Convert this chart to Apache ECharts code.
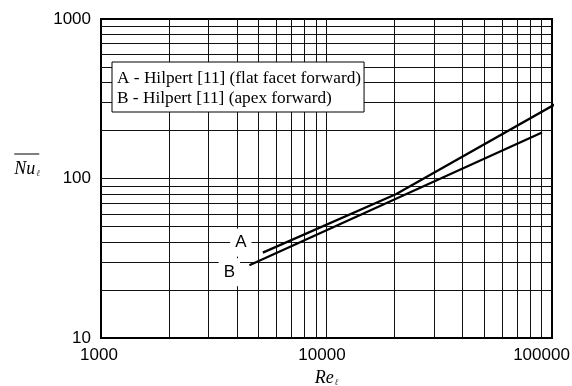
<!DOCTYPE html>
<html>
<head>
    <meta charset="utf-8">
    <title>Nu vs Re</title>
    <script src="https://cdn.jsdelivr.net/npm/echarts@6/dist/echarts.min.js"></script>
    <style>
        html, body { margin: 0; padding: 0; background: #fff; }
        #main { width: 572px; height: 386px; }
    </style>
</head>
<body>
    <div id="main"></div>
    <script>
        // tick labels
        var xTickLabels = [1000, 10000, 100000];
        var yTickLabels = [10, 100, 1000];
        // grid lines (log decades with 2..9 subdivisions)
        var xGrid = [2000, 3000, 4000, 5000, 6000, 7000, 8000, 9000, 10000,
            20000, 30000, 40000, 50000, 60000, 70000, 80000, 90000];
        var yGrid = [20, 30, 40, 50, 60, 70, 80, 90, 100,
            200, 300, 400, 500, 600, 700, 800, 900];

        // series A - flat facet forward
        var nameA = 'A - Hilpert [11] (flat facet forward)';
        var reA = [5220, 20400, 104500];
        var nuA = [34.3, 80, 295];
        // series B - apex forward
        var nameB = 'B - Hilpert [11] (apex forward)';
        var reB = [4550, 90300];
        var nuB = [28.6, 194];

        var tickFont = 'Liberation Sans';
        var serifFont = 'Liberation Serif';

        function pairs(xs, ys, letter, offset) {
            var out = [];
            for (var i = 0; i < xs.length; i++) {
                var item = { value: [xs[i], ys[i]] };
                if (i === 0) {
                    item.label = {
                        show: true,
                        position: 'inside',
                        offset: offset,
                        formatter: letter,
                        fontFamily: tickFont,
                        fontSize: 17,
                        color: '#000',
                        backgroundColor: '#fff',
                        padding: [5, 5, 6, 5]
                    };
                }
                out.push(item);
            }
            return out;
        }

        var gridLines = [];
        xGrid.forEach(function (v) { gridLines.push({ xAxis: v }); });
        yGrid.forEach(function (v) { gridLines.push({ yAxis: v }); });

        var myChart = echarts.init(document.getElementById('main'), null, { renderer: 'canvas' });

        var option = {
            animation: false,
            backgroundColor: '#fff',
            grid: {
                left: 101,
                top: 19,
                right: 20,
                bottom: 48,
                outerBoundsMode: 'none',
                containLabel: false,
                show: true,
                borderColor: '#000',
                borderWidth: 2,
                backgroundColor: 'transparent'
            },
            legend: {
                data: [nameA, nameB],
                orient: 'vertical',
                left: 112,
                top: 62,
                icon: 'none',
                itemWidth: 0,
                itemHeight: 14,
                itemGap: 3,
                padding: [8, 3, 5, 0],
                backgroundColor: '#fff',
                borderColor: '#000',
                borderWidth: 1,
                selectedMode: false,
                textStyle: { fontFamily: serifFont, fontSize: 17.3, color: '#000' }
            },
            xAxis: {
                type: 'log',
                logBase: 10,
                min: 1000,
                max: 100000,
                name: '{re|Re}{sub|ℓ}',
                nameLocation: 'middle',
                nameGap: 30,
                nameTextStyle: {
                    rich: {
                        re: { fontFamily: serifFont, fontStyle: 'italic', fontSize: 18, color: '#000' },
                        sub: { fontFamily: 'DejaVu Serif', fontStyle: 'italic', fontSize: 9, color: '#444', padding: [9, 0, 0, 1] }
                    }
                },
                axisLine: { show: false },
                axisTick: { show: false },
                splitLine: { show: false },
                axisLabel: {
                    margin: 9,
                    formatter: function (v) {
                        var r = Math.round(v);
                        var i = xTickLabels.indexOf(r);
                        return '{t' + i + '|' + r + '}';
                    },
                    rich: {
                        t0: { fontFamily: tickFont, fontSize: 17, color: '#000', padding: [0, 4, 0, 0] },
                        t1: { fontFamily: tickFont, fontSize: 17, color: '#000', padding: [0, 9, 0, 0] },
                        t2: { fontFamily: tickFont, fontSize: 17, color: '#000', padding: [0, 21, 0, 0] }
                    }
                }
            },
            yAxis: {
                type: 'log',
                logBase: 10,
                min: 10,
                max: 1000,
                name: '{ol| }\n{nu|Nu}{sub|ℓ}',
                nameLocation: 'middle',
                nameRotate: 0,
                nameGap: 61,
                nameTextStyle: {
                    padding: [0, 0, 31, 0],
                    rich: {
                        ol: { width: 25, height: 1, lineHeight: 13, backgroundColor: '#000', align: 'left' },
                        nu: { fontFamily: serifFont, fontStyle: 'italic', fontSize: 18, color: '#000' },
                        sub: { fontFamily: 'DejaVu Serif', fontStyle: 'italic', fontSize: 9, color: '#444', padding: [8, 0, 0, 1] }
                    }
                },
                axisLine: { show: false },
                axisTick: { show: false },
                splitLine: { show: false },
                axisLabel: {
                    margin: 10,
                    fontFamily: tickFont,
                    fontSize: 17,
                    color: '#000',
                    formatter: function (v) { return String(Math.round(v)); }
                }
            },
            series: [
                {
                    name: 'grid',
                    type: 'line',
                    data: [],
                    silent: true,
                    markLine: {
                        z: 1,
                        silent: true,
                        symbol: ['none', 'none'],
                        label: { show: false },
                        lineStyle: { color: '#111', width: 1, type: 'solid' },
                        emphasis: { disabled: true },
                        data: gridLines
                    }
                },
                {
                    name: nameA,
                    type: 'line',
                    z: 3,
                    clip: false,
                    showSymbol: true,
                    symbol: 'circle',
                    symbolSize: 0,
                    lineStyle: { color: '#000', width: 2.2 },
                    itemStyle: { color: '#000' },
                    data: pairs(reA, nuA, 'A', [-22, -10])
                },
                {
                    name: nameB,
                    type: 'line',
                    z: 3,
                    clip: false,
                    showSymbol: true,
                    symbol: 'circle',
                    symbolSize: 0,
                    lineStyle: { color: '#000', width: 2.2 },
                    itemStyle: { color: '#000' },
                    data: pairs(reB, nuB, 'B', [-20, 7])
                }
            ]
        };

        myChart.setOption(option);
    </script>
</body>
</html>
